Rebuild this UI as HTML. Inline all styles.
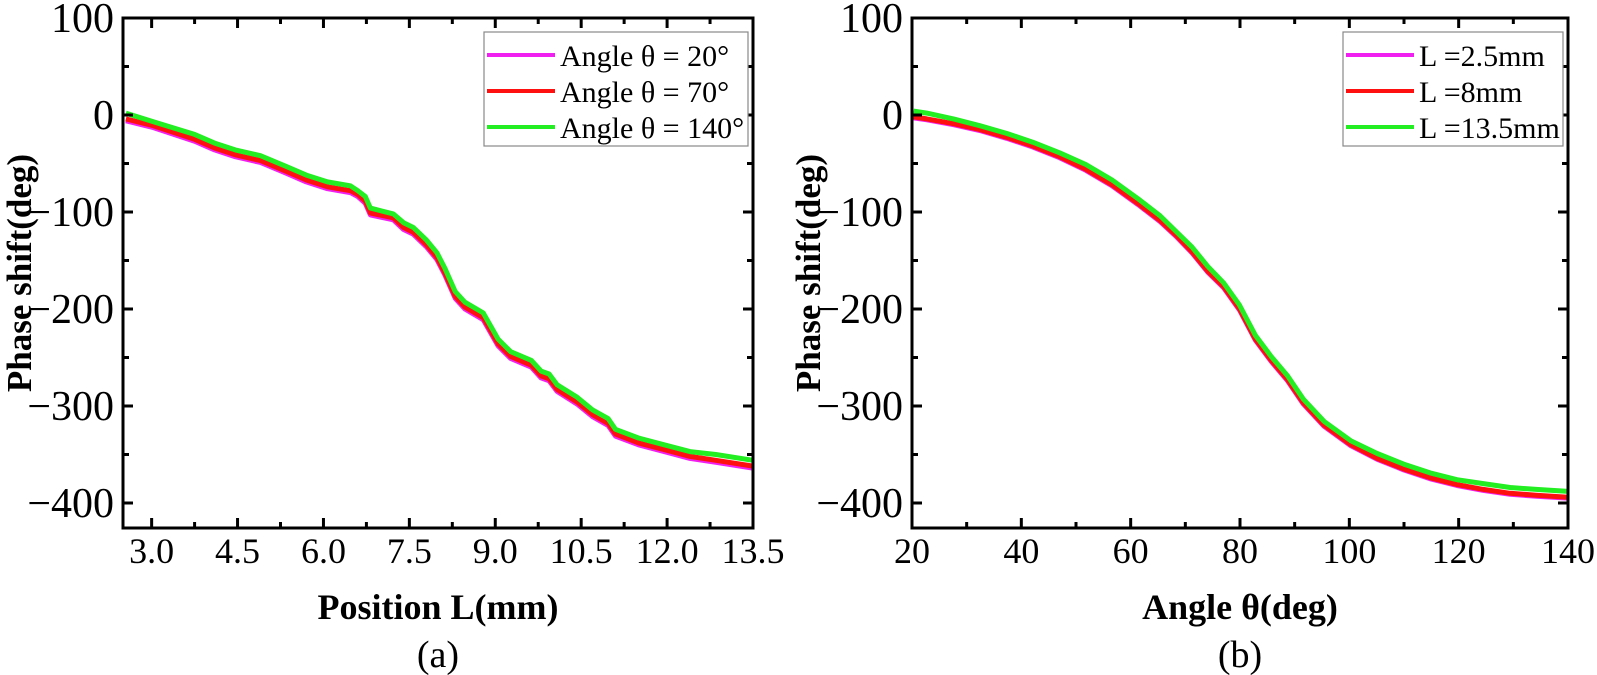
<!DOCTYPE html>
<html><head><meta charset="utf-8">
<style>
html,body{margin:0;padding:0;background:#fff;}
svg{display:block;font-family:"Liberation Serif","Times New Roman",serif;}
</style></head>
<body>
<svg id="fig" width="1597" height="675" viewBox="0 0 1597 675" xmlns="http://www.w3.org/2000/svg"></svg>
<script>
// Panel (a) data: Position L (mm) vs phase shift
const aX = [2.55,3.03,3.75,4.1,4.46,4.9,5.35,5.7,6.07,6.47,6.6,6.73,6.82,7.22,7.4,7.57,7.8,7.98,8.12,8.3,8.47,8.79,9.05,9.27,9.63,9.8,9.94,10.08,10.43,10.7,10.97,11.1,11.5,11.95,12.4,12.85,13.5];
const aGreen = [2,-7,-20,-29,-36,-42,-53,-62,-69,-73,-78,-84,-96,-102,-111,-116,-129,-142,-158,-182,-193,-204,-231,-244,-253,-264,-267,-278,-291,-304,-313,-324,-333,-340,-347,-350,-356];
const aRed = [-4,-11,-25,-34,-41,-47,-58,-67,-74,-78,-82,-89,-101,-106,-116,-121,-134,-147,-163,-187,-198,-209,-236,-249,-258,-269,-272,-283,-296,-309,-318,-329,-338,-345,-352,-356,-362];
const aMagenta = [-6,-13,-27,-36,-43,-49,-60,-69,-76,-80,-84,-91,-103,-108,-118,-123,-136,-149,-165,-189,-200,-211,-238,-251,-260,-271,-274,-285,-298,-311,-320,-331,-340,-347,-354,-358,-364];
const aTicks = [3.0,4.5,6.0,7.5,9.0,10.5,12.0,13.5];
const aTickLabels = ["3.0","4.5","6.0","7.5","9.0","10.5","12.0","13.5"];
const aLegend = ["Angle θ = 20°","Angle θ = 70°","Angle θ = 140°"];

// Panel (b) data: Angle θ vs phase shift
const bX = [20.3,22.7,27.6,32.4,37.3,42.1,47,51.8,56.6,61.5,65.4,68.3,71.2,74.1,77,79.9,82.8,85.7,88.7,91.6,95.4,100.3,105.1,110,114.8,119.7,124.5,129.4,134.2,140];
const bGreen = [4,2,-4,-11,-19,-28,-39,-51,-67,-87,-104,-120,-136,-156,-173,-196,-227,-249,-269,-293,-316,-336,-349,-360,-369,-376,-380,-384,-386,-388];
const bRed = [-2,-4,-9,-15,-23,-32,-43,-56,-72,-92,-109,-124,-141,-161,-177,-200,-231,-253,-273,-297,-320,-340,-354,-365,-374,-381,-386,-390,-392,-394];
const bMagenta = [-3,-5,-10,-16,-24,-33,-44,-57,-73,-93,-110,-125,-142,-162,-178,-201,-232,-254,-274,-298,-321,-341,-355,-366,-375,-382,-387,-391,-393,-395];
const bTicks = [20,40,60,80,100,120,140];
const bTickLabels = ["20","40","60","80","100","120","140"];
const bLegend = ["L =2.5mm","L =8mm","L =13.5mm"];

const yTicks = [100,0,-100,-200,-300,-400];
const yTickLabels = ["100","0","\u2212100","\u2212200","\u2212300","\u2212400"];

const NS = "http://www.w3.org/2000/svg";
const svg = document.getElementById('fig');
function mk(tag, attrs, parent){
  const e = document.createElementNS(NS, tag);
  for (const k in attrs) e.setAttribute(k, attrs[k]);
  (parent||svg).appendChild(e);
  return e;
}
const TOP = 18, BOT = 528;
function yScale(v){ return 115 - v*0.97; }

function panel(opt){
  const g = mk('g', {});
  
  
  const L = opt.left, R = opt.right;
  const xs = v => L + (v - opt.xmin)/(opt.xmax - opt.xmin)*(R - L);
  const series = [[opt.mag,'#f020f0','series-magenta'],[opt.red,'#ff1010','series-red'],[opt.green,'#22ee22','series-green']];
  series.forEach(s=>{
    let d = '';
    opt.x.forEach((xv,i)=>{ d += (i?'L':'M') + xs(xv).toFixed(1) + ',' + yScale(s[0][i]).toFixed(1); });
    const p = mk('path', {d:d, fill:'none', stroke:s[1], 'stroke-width':5, 'stroke-linejoin':'round'}, g);
    
    
  });
  const fr = mk('rect', {x:L, y:TOP, width:R-L, height:BOT-TOP, fill:'none', stroke:'#000', 'stroke-width':3}, g);
  
  
  const stepMinor = (opt.ticks[1]-opt.ticks[0])/2;
  for (let v = opt.ticks[0]-stepMinor; v <= opt.xmax+1e-6; v += stepMinor){
    if (v < opt.xmin-1e-6) continue;
    const major = opt.ticks.some(t=>Math.abs(t-v)<1e-6);
    const len = major?10:6;
    const x = xs(v);
    mk('line',{x1:x,x2:x,y1:BOT,y2:BOT-len,stroke:'#000','stroke-width':3},g);
    mk('line',{x1:x,x2:x,y1:TOP,y2:TOP+len,stroke:'#000','stroke-width':3},g);
  }
  opt.ticks.forEach((t,i)=>{
    const tx = mk('text',{x:xs(t),y:563,'font-size':36,'text-anchor':'middle'},g);
    tx.textContent = opt.tickLabels[i];
    
    
  });
  for (let v = 100; v >= -420; v -= 50){
    const major = (v % 100 === 0);
    const len = major?10:6;
    const y = yScale(v);
    mk('line',{x1:L,x2:L+len,y1:y,y2:y,stroke:'#000','stroke-width':3},g);
    mk('line',{x1:R,x2:R-len,y1:y,y2:y,stroke:'#000','stroke-width':3},g);
  }
  yTicks.forEach((t,i)=>{
    const tx = mk('text',{x:L-9,y:yScale(t)+14,'font-size':42,'text-anchor':'end'},g);
    tx.textContent = yTickLabels[i];
    
    
  });
  const yt = mk('text',{x:0,y:0,'font-size':35,'font-weight':'bold','text-anchor':'middle',transform:`translate(${L-92},${(TOP+BOT)/2}) rotate(-90)`},g);
  yt.textContent = 'Phase shift(deg)';
  
  
  const xt = mk('text',{x:(L+R)/2,y:619,'font-size':36,'font-weight':'bold','text-anchor':'middle'},g);
  xt.textContent = opt.xtitle;
  
  
  const cap = mk('text',{x:(L+R)/2,y:667,'font-size':38,'text-anchor':'middle'},g);
  cap.textContent = opt.caption;
  
  
  const lg = mk('g',{},g);
  
  
  mk('rect',{x:opt.lgX,y:32,width:opt.lgW,height:114,fill:'#fff',stroke:'#888','stroke-width':1.2},lg);
  const cols = ['#f020f0','#ff1010','#22ee22'];
  opt.legend.forEach((s,i)=>{
    const y = 55 + i*36;
    const ent = mk('g',{},lg);
    
    
    mk('line',{x1:opt.lgX+3,x2:opt.lgX+71,y1:y,y2:y,stroke:cols[i],'stroke-width':4},ent);
    const t = mk('text',{x:opt.lgX+76,y:y+11,'font-size':30},ent);
    t.textContent = s;
  });
}

panel({name:'panel-a', left:123, right:753, xmin:2.5, xmax:13.5, x:aX, green:aGreen, red:aRed, mag:aMagenta,
  ticks:aTicks, tickLabels:aTickLabels, xtitle:'Position L(mm)', caption:'(a)', legend:aLegend, lgX:484, lgW:264});
panel({name:'panel-b', left:912, right:1568, xmin:20, xmax:140, x:bX, green:bGreen, red:bRed, mag:bMagenta,
  ticks:bTicks, tickLabels:bTickLabels, xtitle:'Angle θ(deg)', caption:'(b)', legend:bLegend, lgX:1343, lgW:220});
</script>
</body></html>
